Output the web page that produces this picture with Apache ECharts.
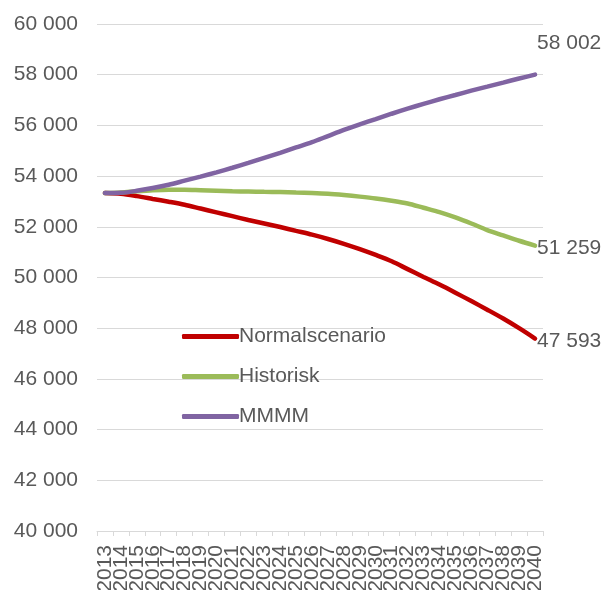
<!DOCTYPE html>
<html>
<head>
<meta charset="utf-8">
<script src="https://cdn.jsdelivr.net/npm/echarts@6/dist/echarts.min.js"></script>
<style>html,body{margin:0;padding:0;background:#fff}#c{width:606px;height:590px}</style>
</head>
<body>
<div id="c"></div>
<script>
var years = ['2013','2014','2015','2016','2017','2018','2019','2020','2021','2022','2023','2024','2025','2026','2027','2028','2029','2030','2031','2032','2033','2034','2035','2036','2037','2038','2039','2040'];
var normalscenario = [53330,53300,53210,53100,52990,52870,52720,52570,52420,52270,52130,51990,51840,51690,51520,51330,51120,50890,50640,50330,50020,49720,49400,49070,48730,48380,48000,47593];
var historisk = [53330,53350,53400,53440,53460,53460,53440,53420,53400,53390,53380,53370,53350,53330,53300,53250,53190,53120,53030,52920,52750,52580,52370,52130,51870,51660,51450,51259];
var mmmm = [53330,53340,53420,53530,53660,53820,53980,54150,54330,54520,54720,54920,55130,55340,55580,55820,56040,56250,56460,56660,56850,57030,57200,57370,57530,57690,57850,58002];

function fmt(v){ return String(Math.round(v)).replace(/\B(?=(\d{3})+(?!\d))/g,' '); }
var txt = '#595959';
var font = 'Liberation Sans, Arial, sans-serif';
var fs = 21;

function mk(name, data, color, off){
  return {
    name: name, type: 'line', data: data, smooth: 0.3, symbol: 'none',
    lineStyle: {color: color, width: 4.5, cap: 'round'},
    itemStyle: {color: color},
    endLabel: {show: true, formatter: function(p){return fmt(p.value);}, color: txt,
      fontSize: fs, fontFamily: font, distance: 2, offset: off},
    z: 3
  };
}

var chart = echarts.init(document.getElementById('c'), null, {renderer: 'canvas'});
chart.setOption({
  animation: false,
  backgroundColor: '#fff',
  grid: {left: 97, right: 63, top: 24, bottom: 59, containLabel: false, outerBoundsMode: 'none'},
  legend: {
    orient: 'vertical', left: 182, top: 326, itemGap: 19, padding: 0,
    itemWidth: 57, itemHeight: 5, icon: 'roundRect',
    textStyle: {color: txt, fontSize: fs, fontFamily: font, padding: [0,0,0,-5]},
    data: ['Normalscenario','Historisk','MMMM']
  },
  xAxis: {
    type: 'category', data: years, boundaryGap: true,
    axisLine: {lineStyle: {color: '#d9d9d9', width: 1}},
    axisTick: {show: true, length: 5, lineStyle: {color: '#d9d9d9'}},
    axisLabel: {rotate: 90, interval: 0, color: txt, fontSize: fs, fontFamily: font, margin: 14}
  },
  yAxis: {
    type: 'value', min: 40000, max: 60000, interval: 2000,
    axisLine: {show: false}, axisTick: {show: false},
    splitLine: {lineStyle: {color: '#d9d9d9', width: 1}},
    axisLabel: {color: txt, fontSize: fs, fontFamily: font, margin: 19, formatter: fmt}
  },
  series: [
    mk('Normalscenario', normalscenario, '#C00000', [0, 3]),
    mk('Historisk', historisk, '#9BBB59', [0, 3]),
    mk('MMMM', mmmm, '#8064A2', [0, -31])
  ]
});
</script>
</body>
</html>
